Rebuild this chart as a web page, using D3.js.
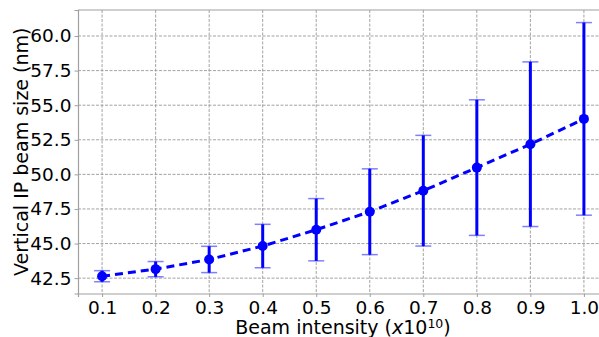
<!DOCTYPE html>
<html>
<head>
<meta charset="utf-8">
<script src="https://cdn.jsdelivr.net/npm/d3@7"></script>
<style>
  body { margin: 0; background: #fff; }
  svg { display: block; font-family: "DejaVu Sans", sans-serif; }
</style>
</head>
<body>
<div class="container"></div>
<script>
const INTENSITY = [0.1, 0.2, 0.3, 0.4, 0.5, 0.6, 0.7, 0.8, 0.9, 1.0];
const BEAM_SIZE = [42.64, 43.15, 43.85, 44.82, 46.0, 47.3, 48.82, 50.49, 52.18, 54.01];
const BEAM_ERR  = [0.4, 0.55, 0.95, 1.57, 2.25, 3.1, 4.0, 4.9, 5.95, 6.96];
const Y_TICKS = [42.5, 45.0, 47.5, 50.0, 52.5, 55.0, 57.5, 60.0];

const W = 599, H = 337;
const margin = {left: 78, top: 10, right: 608, bottom: 293.5};

const svg = d3.select(".container").append("svg")
  .attr("width", W)
  .attr("height", H);

let x = d3.scaleLinear().domain([0.055, 1.045]).range([margin.left, margin.right]);
let y = d3.scaleLinear().domain([41.39, 61.88]).range([margin.bottom, margin.top]);

// grid
let grid = svg.append("g");
grid.selectAll(".vg")
  .data(INTENSITY)
  .enter().append("line")
  .attr("x1", d => x(d)).attr("x2", d => x(d))
  .attr("y1", margin.top).attr("y2", margin.bottom)
  .attr("stroke", "#8c8c8c").attr("stroke-width", 0.8)
  .attr("stroke-dasharray", "3,1.5");
grid.selectAll(".hg")
  .data(Y_TICKS)
  .enter().append("line")
  .attr("y1", d => y(d)).attr("y2", d => y(d))
  .attr("x1", margin.left).attr("x2", margin.right)
  .attr("stroke", "#8c8c8c").attr("stroke-width", 0.8)
  .attr("stroke-dasharray", "3,1.5");

// axes
let xAxis = svg.append("g")
  .attr("transform", `translate(0,${margin.bottom})`)
  .call(d3.axisBottom(x).tickValues(INTENSITY).tickFormat(d3.format(".1f")).tickSizeOuter(0).tickSize(3.5).tickPadding(3.5));
let yAxis = svg.append("g")
  .attr("transform", `translate(${margin.left},0)`)
  .call(d3.axisLeft(y).tickValues(Y_TICKS).tickFormat(d3.format(".1f")).tickSizeOuter(0).tickSize(3.5).tickPadding(3));

[xAxis, yAxis].forEach(a => {
  a.select(".domain").attr("stroke", "#a0a0a0").attr("stroke-width", 1.2);
  a.selectAll(".tick line").attr("stroke", "#a0a0a0");
  a.selectAll("text").attr("fill", "#000").attr("font-size", "18.5px")
    .attr("font-family", "DejaVu Sans");
});

// top spine
svg.append("line")
  .attr("x1", margin.left).attr("x2", margin.right)
  .attr("y1", margin.top).attr("y2", margin.top)
  .attr("stroke", "#a0a0a0").attr("stroke-width", 1.2);

const data = INTENSITY.map((v, i) => ({x: v, y: BEAM_SIZE[i], e: BEAM_ERR[i]}));

// dashed line
let line = d3.line().x(d => x(d.x)).y(d => y(d.y));
svg.append("path")
  .datum(data)
  .attr("d", line)
  .attr("fill", "none")
  .attr("stroke", "#0000ff")
  .attr("stroke-width", 3)
  .attr("stroke-dasharray", "8,5");

// error bars
let eb = svg.selectAll(".err").data(data).enter().append("g");
eb.append("line")
  .attr("x1", d => x(d.x)).attr("x2", d => x(d.x))
  .attr("y1", d => y(d.y - d.e)).attr("y2", d => y(d.y + d.e))
  .attr("stroke", "#0000ff").attr("stroke-width", 3);
[-1, 1].forEach(s => {
  eb.append("line")
    .attr("x1", d => x(d.x) - 8).attr("x2", d => x(d.x) + 8)
    .attr("y1", d => y(d.y + s * d.e)).attr("y2", d => y(d.y + s * d.e))
    .attr("stroke", "#0000ff").attr("stroke-opacity", 0.5).attr("stroke-width", 1.5);
});

// markers
svg.selectAll(".pt").data(data).enter().append("circle")
  .attr("cx", d => x(d.x)).attr("cy", d => y(d.y))
  .attr("r", 5)
  .attr("fill", "#0000ff");

// labels
svg.append("text")
  .attr("transform", `translate(${(margin.left + margin.right) / 2},334)`)
  .attr("text-anchor", "middle")
  .attr("font-size", "19px")
  .attr("fill", "#000")
  .html('Beam intensity (<tspan font-style="italic">x</tspan>10<tspan dy="-6" font-size="12.5px">10</tspan><tspan dy="6">)</tspan>');

svg.append("text")
  .attr("transform", `translate(28,${(margin.top + margin.bottom) / 2}) rotate(-90)`)
  .attr("text-anchor", "middle")
  .attr("font-size", "19px")
  .attr("fill", "#000")
  .text("Vertical IP beam size (nm)");
</script>
</body>
</html>
